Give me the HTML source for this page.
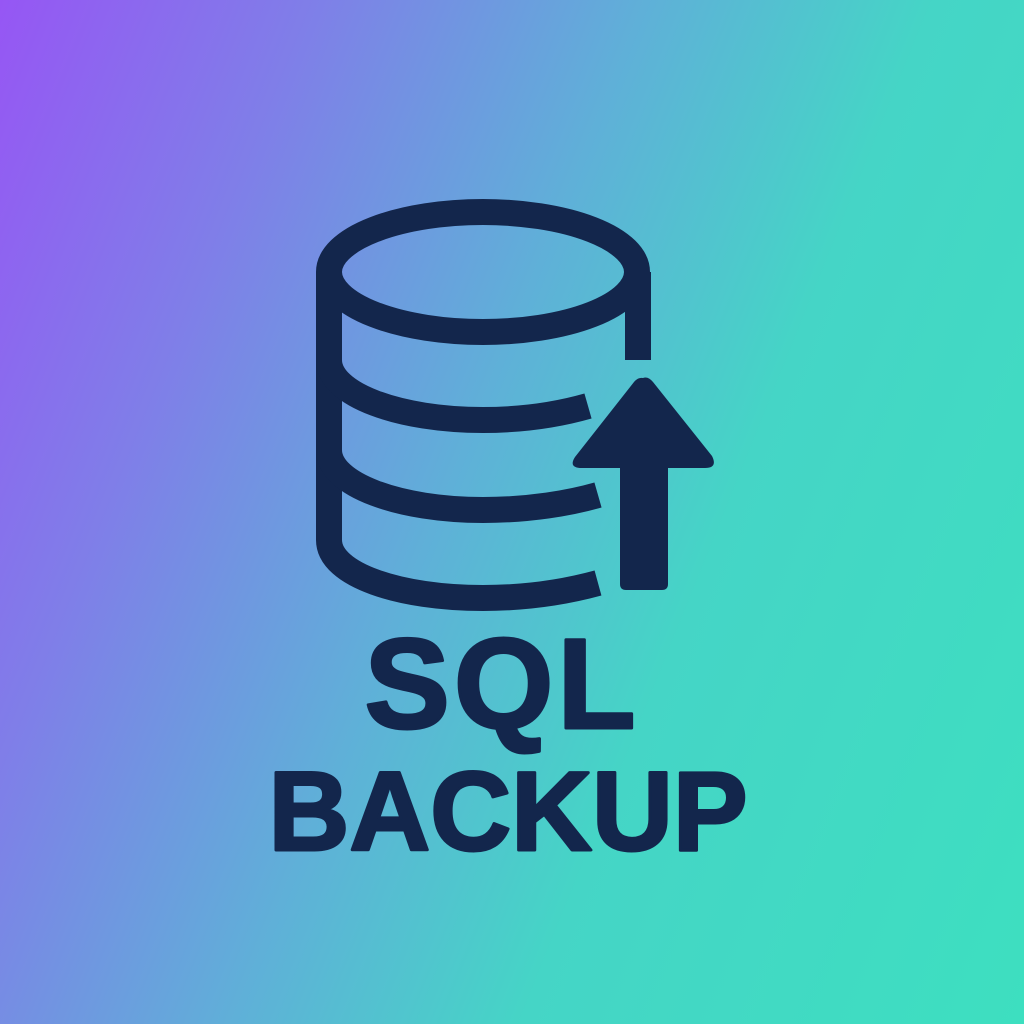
<!DOCTYPE html>
<html><head><meta charset="utf-8"><style>
html,body{margin:0;padding:0;width:1024px;height:1024px;overflow:hidden}
body{background:linear-gradient(112deg,#9656f4 0%,#7f7fe8 22%,#5fb0d8 45%,#45d5c6 65%,#3ddfc0 100%)}
svg{position:absolute;left:0;top:0}
</style></head><body>
<svg width="1024" height="1024" viewBox="0 0 1024 1024">
<g fill="none" stroke="#13264c" stroke-width="26" stroke-linecap="butt">
<ellipse cx="483" cy="272" rx="154" ry="60"/>
<path d="M329 272 V540 C329 575 400 598 483 598 C525 598 565 592 598 583"/>
<path d="M638 272 V360"/>
<path d="M329 360 C329 395 400 420 483 420 C525 420 560 414 588 406"/>
<path d="M329 450 C329 485 400 510 483 510 C530 510 570 503 598 495"/>
</g>
<path d="M643 378 Q648 376 653 382 L712 456 Q718 468 705 468 L668 468 V584 Q668 590 662 590 H626 Q620 590 620 584 V468 L582 468 Q568 468 575 457 L634 382 Q638 377 643 378 Z" fill="#13264c"/>
<g fill="#13264c" stroke="#13264c" stroke-width="3" stroke-linejoin="round" font-family="Liberation Sans, sans-serif" font-weight="bold" text-anchor="middle">
<text x="502" y="728" font-size="128" letter-spacing="4">SQL</text>
<text x="508" y="850" font-size="112">BACKUP</text>
</g>
</svg>
</body></html>
